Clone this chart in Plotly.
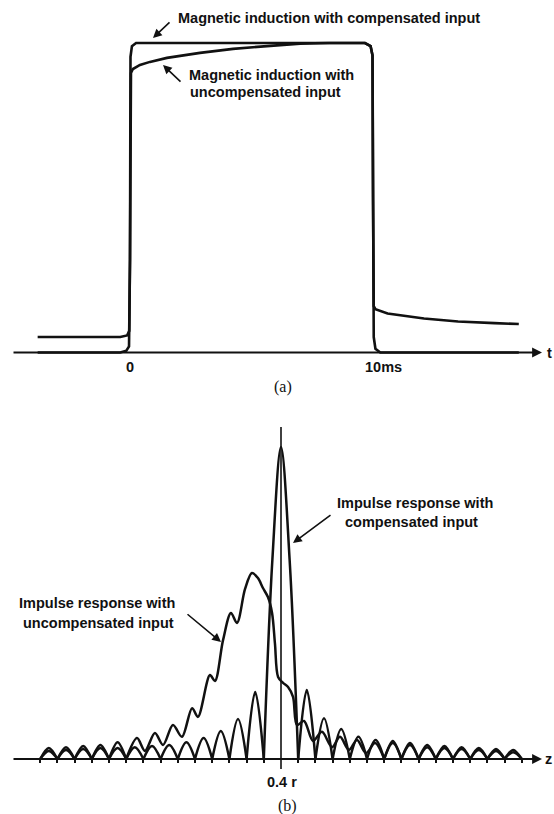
import plotly.graph_objects as go

W, H = 554, 814

# ---------------- (a) magnetic induction vs time (ms), normalized ----------------
comp_t = [-3.8, -0.40, -0.15, -0.04, 0.00, 0.02, 0.08, 0.25, 9.67, 9.90, 9.98, 10.00, 10.03, 10.10, 10.30, 16.0]
comp_b = [0.0, 0.0, 0.006, 0.02, 0.30, 0.955, 0.99, 1.0, 1.0, 0.99, 0.96, 0.50, 0.05, 0.012, 0.0, 0.0]

uncomp_t = [-3.8, -0.40, -0.12, -0.03, 0.00, 0.02, 0.04, 0.12, 0.41, 0.82, 1.52, 2.88, 4.24, 5.64, 7.0, 8.2,
            9.67, 9.90, 9.98, 10.00, 10.03, 10.10, 10.6, 12.1, 13.5, 15.0, 16.0]
uncomp_b = [0.050, 0.050, 0.055, 0.07, 0.30, 0.85, 0.903, 0.916, 0.929, 0.939, 0.952, 0.968, 0.981, 0.990, 0.998, 1.0,
            1.0, 0.99, 0.96, 0.50, 0.15, 0.140, 0.126, 0.110, 0.100, 0.095, 0.092]

time_ticks = [0, 10]
time_labels = ["0", "10ms"]

# ---------------- (b) impulse response vs z (in units of lobe spacing, centred on 0.4 r) ----------------
comp_left_h = [0.026, 0.029, 0.032, 0.035, 0.035, 0.038, 0.042, 0.045, 0.054, 0.067, 0.090, 0.128, 0.215]  # lobes -14..-1
main_lobe_z = [-1.0, -0.5, 0.0, 0.5, 1.0]
main_lobe_h = [0.0, 0.64, 1.0, 0.64, 0.0]
comp_right_h = [0.221, 0.131, 0.096, 0.071, 0.061, 0.051, 0.045, 0.038, 0.035, 0.032, 0.029, 0.026, 0.022]  # lobes 1..14

unc_far_left_h = [0.035, 0.038, 0.042, 0.045, 0.054]  # lobes -14..-9
unc_mid_z = [-9.0, -8.37, -7.91, -7.33, -6.86, -6.28, -5.76, -5.17, -4.83, -4.13, -3.84, -3.37, -2.91, -2.56,
             -2.09, -1.69, -1.34, -1.05, -0.76, -0.52, -0.35, -0.17, 0.12, 0.41, 0.70, 0.93, 1.34, 1.86,
             2.38, 2.97, 3.43, 3.95, 4.42, 4.94, 5.47, 6.0]
unc_mid_h = [0.0, 0.067, 0.026, 0.083, 0.045, 0.109, 0.071, 0.163, 0.135, 0.269, 0.250, 0.381, 0.468, 0.436,
             0.545, 0.596, 0.580, 0.548, 0.519, 0.468, 0.369, 0.263, 0.244, 0.231, 0.199, 0.109, 0.122, 0.058,
             0.087, 0.038, 0.071, 0.029, 0.061, 0.019, 0.051, 0.0]
unc_far_right_h = [0.058, 0.051, 0.045, 0.042, 0.038, 0.035, 0.032, 0.029]  # lobes 6..14

zero_ticks = [k for k in range(-14, 15) if k != 0]
centre_label = "0.4 r"

# ---------------- build lobe traces ----------------
def lobes(start, heights):
    xs, ys = [], []
    for i, h in enumerate(heights):
        z0 = start + i
        xs += [z0, z0 + 0.5, z0 + 1, None]
        ys += [0, h, 0, None]
    return xs, ys

cx, cy = lobes(-14, comp_left_h)
cx += main_lobe_z + [None]
cy += main_lobe_h + [None]
rx, ry = lobes(1, comp_right_h)
cx += rx
cy += ry

ux, uy = lobes(-14, unc_far_left_h)
ux += unc_mid_z + [None]
uy += unc_mid_h + [None]
rx, ry = lobes(6, unc_far_right_h)
ux += rx
uy += ry

INK = "#111111"
fig = go.Figure()
fig.add_trace(go.Scatter(x=comp_t, y=comp_b, mode="lines", line=dict(color=INK, width=2.6),
                         xaxis="x", yaxis="y", hoverinfo="skip"))
fig.add_trace(go.Scatter(x=uncomp_t, y=uncomp_b, mode="lines", line=dict(color=INK, width=2.6),
                         xaxis="x", yaxis="y", hoverinfo="skip"))
fig.add_trace(go.Scatter(x=cx, y=cy, mode="lines", line=dict(color=INK, width=2.5, shape="spline"),
                         connectgaps=False, xaxis="x2", yaxis="y2", hoverinfo="skip"))
fig.add_trace(go.Scatter(x=ux, y=uy, mode="lines", line=dict(color=INK, width=2.5, shape="spline", smoothing=0.9),
                         connectgaps=False, xaxis="x2", yaxis="y2", hoverinfo="skip"))

# pixel mapping helpers for layout
A_X0, A_PPX = 130.0, 24.3     # px of t=0, px per ms
A_BASE, A_PPY = 352.5, 309.5  # px of baseline, px per unit
B_X0, B_PPX = 281.0, 17.2
B_BASE, B_PPY = 759.0, 312.0

def pxp(x):
    return x / W

def pyp(y):
    return 1 - y / H

hidden = dict(showgrid=False, zeroline=False, showticklabels=False, showline=False, ticks="")

fig.update_layout(
    width=W, height=H, margin=dict(l=0, r=0, t=0, b=0),
    paper_bgcolor="white", plot_bgcolor="white", showlegend=False,
    xaxis=dict(domain=[0, 1], range=[-A_X0 / A_PPX, (W - A_X0) / A_PPX], anchor="y", **hidden),
    yaxis=dict(domain=[0.5, 1], range=[-(407 - A_BASE) / A_PPY, A_BASE / A_PPY], anchor="x", **hidden),
    xaxis2=dict(domain=[0, 1], range=[-B_X0 / B_PPX, (W - B_X0) / B_PPX], anchor="free",
                position=(H - B_BASE) / H, showgrid=False, zeroline=False, showline=False,
                showticklabels=False, ticks="outside", ticklen=3, tickwidth=1.6, tickcolor=INK,
                tickmode="array", tickvals=zero_ticks),
    yaxis2=dict(domain=[0, 0.5], range=[-(H - B_BASE) / B_PPY, (B_BASE - 407) / B_PPY], anchor="x2", **hidden),
)

# vertical centre line in (b)
fig.add_shape(type="line", xref="x2", yref="y2", x0=0, x1=0,
              y0=-(769 - B_BASE) / B_PPY, y1=(B_BASE - 427) / B_PPY, line=dict(color=INK, width=1.6))

ann = []
# axis arrows
ann.append(dict(xref="x", yref="y", axref="x", ayref="y", x=(542 - A_X0) / A_PPX, y=0,
                ax=(12 - A_X0) / A_PPX, ay=0, showarrow=True, arrowhead=2, arrowsize=1.1,
                arrowwidth=1.8, arrowcolor=INK, text=""))
ann.append(dict(xref="x2", yref="y2", axref="x2", ayref="y2", x=(542 - B_X0) / B_PPX, y=0,
                ax=(12 - B_X0) / B_PPX, ay=0, showarrow=True, arrowhead=2, arrowsize=1.1,
                arrowwidth=1.8, arrowcolor=INK, text=""))

SANS = "Liberation Sans, Arial, sans-serif"
SERIF = "Liberation Serif, Times New Roman, serif"

def txt(s, x, y, xanchor="center", size=14.5, family=SANS, bold=True):
    return dict(xref="paper", yref="paper", x=pxp(x), y=pyp(y), text=s, showarrow=False,
                xanchor=xanchor, yanchor="middle",
                font=dict(family=family, size=size, color=INK, weight=("bold" if bold else "normal")))

def arrow(hx, hy, tx, ty):
    return dict(xref="paper", yref="paper", x=pxp(hx), y=pyp(hy), ax=tx - hx, ay=ty - hy,
                showarrow=True, arrowhead=2, arrowsize=1.1, arrowwidth=1.6, arrowcolor=INK, text="")

# tick labels
for tv, tl in zip(time_ticks, time_labels):
    ann.append(txt(tl, A_X0 + tv * A_PPX + (0 if tv == 0 else 10), 367))
ann.append(txt(centre_label, B_X0 + 1, 782))
ann.append(txt("t", 554, 353, xanchor="right"))
ann.append(txt("z", 554, 759, xanchor="right"))
ann.append(txt("(a)", 283, 387, size=16, family=SERIF, bold=False))
ann.append(txt("(b)", 287, 806, size=16, family=SERIF, bold=False))

# callouts (a)
ann.append(txt("Magnetic induction with compensated input", 176, 18, xanchor="left"))
ann.append(arrow(153, 38, 171, 21))
ann.append(txt("Magnetic induction with", 187, 75, xanchor="left"))
ann.append(txt("uncompensated input", 188, 92, xanchor="left"))
ann.append(arrow(163, 65, 182, 83))
# callouts (b)
ann.append(txt("Impulse response with", 415, 503))
ann.append(txt("compensated input", 411, 522))
ann.append(arrow(293, 543, 332, 514))
ann.append(txt("Impulse response with", 97, 603))
ann.append(txt("uncompensated input", 98, 623))
ann.append(arrow(221, 642, 186, 613))

fig.update_layout(annotations=ann)
fig.write_html("out.html")
